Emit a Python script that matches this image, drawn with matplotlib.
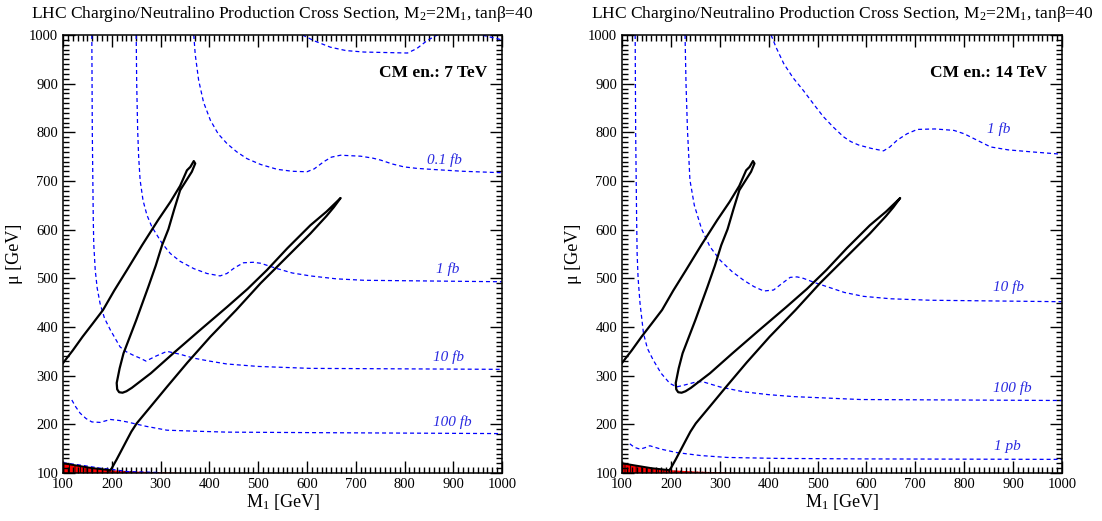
import numpy as np
import matplotlib
matplotlib.use('Agg')
import matplotlib.pyplot as plt
from matplotlib.ticker import MultipleLocator

plt.rcParams['font.family'] = ['Liberation Serif', 'DejaVu Serif']
plt.rcParams['mathtext.fontset'] = 'custom'
plt.rcParams['mathtext.rm'] = 'Liberation Serif'
plt.rcParams['mathtext.it'] = 'Liberation Serif:italic'
plt.rcParams['hatch.linewidth'] = 0.6

# black contour (same in both panels), (M1, mu) in GeV
contour_m1 = [100, 120, 140, 160, 182, 205, 231, 262, 295, 320, 340, 354, 361, 368, 371, 364, 352,
              340, 328, 316, 303, 290, 275, 250, 224, 216, 210, 211, 215, 222, 230, 241, 280, 326,
              380, 436, 478, 518, 560, 607, 640, 669, 655, 640, 607, 555, 505, 455, 402, 355, 313,
              280, 251, 240, 231, 220, 210, 200, 196]
contour_mu = [326, 352, 380, 406, 435, 475, 517, 568, 620, 657, 690, 722, 729, 741, 736, 719, 700,
              681, 642, 601, 568, 526, 483, 414, 346, 315, 285, 272, 266, 265, 268, 275, 305, 346,
              393, 441, 478, 517, 562, 609, 637, 665, 646, 628, 592, 540, 490, 435, 380, 327, 277,
              237, 202, 185, 168, 147, 128, 110, 105]

# excluded region at the bottom left
red_m1 = [100, 130, 160, 196, 250, 300, 350]
red_mu = [120, 115, 110, 106, 103, 101.5, 100]

# cross section contours, 7 TeV
l7_top_m1 = [580, 593, 615, 648, 680, 717, 806, 825, 847, 867, 900, 950, 1000]
l7_top_mu = [1010, 999, 988, 975, 968, 965, 963, 972, 989, 1000, 1004, 1002, 990]
l7_01_m1 = [368, 371, 378, 388, 402, 418, 436, 456, 477, 505, 539, 570, 600, 615, 635, 650, 669,
            710, 735, 751, 775, 799, 825, 854, 920, 1000]
l7_01_mu = [1000, 960, 907, 862, 825, 797, 777, 760, 746, 734, 724, 720, 719, 725, 740, 749, 753,
            751, 747, 743, 735, 729, 726, 724, 720, 717]
l7_1_m1 = [250, 251, 253, 255, 258, 264, 272, 282, 303, 320, 340, 368, 395, 422, 436, 452, 470,
           490, 505, 539, 570, 607, 660, 717, 1000]
l7_1_mu = [1000, 900, 804, 750, 702, 660, 630, 606, 572, 551, 535, 520, 510, 505, 510, 522, 532,
           533, 531, 520, 511, 505, 499, 496, 493]
l7_10_m1 = [159, 160, 162, 163, 166, 170, 176, 185, 197, 217, 230, 244, 258, 270, 290, 313, 340,
            368, 400, 436, 500, 607, 1000]
l7_10_mu = [1000, 800, 620, 570, 517, 480, 448, 418, 394, 359, 349, 342, 336, 330, 340, 350, 344,
            336, 330, 324, 319, 315, 313]
l7_100_m1 = [118, 126, 135, 147, 159, 176, 197, 215, 231, 270, 313, 370, 436, 607, 1000]
l7_100_mu = [250, 236, 223, 212, 205, 204, 210, 208, 205, 196, 188, 186, 184, 183, 181]
l7_1pb_m1 = [100, 138, 176, 197, 231, 300]
l7_1pb_mu = [121, 116, 110, 108, 103, 101]

# cross section contours, 14 TeV
l14_1_m1 = [405, 415, 431, 450, 471, 492, 512, 533, 553, 568, 584, 610, 635, 648, 663, 683, 704,
            740, 779, 800, 820, 854, 890, 936, 1000]
l14_1_mu = [1000, 975, 941, 912, 886, 858, 832, 810, 791, 781, 774, 767, 762, 770, 784, 797, 806,
            807, 804, 797, 787, 770, 764, 760, 755]
l14_10_m1 = [229, 231, 234, 239, 248, 263, 280, 301, 325, 349, 370, 390, 410, 428, 444, 458, 471,
             495, 519, 555, 594, 650, 731, 1000]
l14_10_mu = [1000, 900, 804, 702, 650, 601, 565, 537, 514, 496, 483, 474, 476, 490, 502, 503, 500,
             491, 483, 471, 463, 458, 455, 452]
l14_100_m1 = [127, 128, 130, 131, 133, 137, 144, 152, 164, 180, 198, 212, 225, 240, 255, 267, 300,
              348, 400, 451, 588, 1000]
l14_100_mu = [1000, 800, 620, 551, 500, 448, 387, 356, 332, 305, 284, 277, 280, 284, 288, 287, 277,
              267, 261, 257, 251, 249]
l14_1pb_m1 = [116, 125, 137, 147, 157, 180, 212, 260, 315, 420, 588, 1000]
l14_1pb_mu = [160, 153, 149, 152, 156, 149, 142, 136, 132, 130, 129, 128]

labels_7 = [('0.1 fb', 881, 743), ('1 fb', 888, 518), ('10 fb', 890, 339), ('100 fb', 898, 205)]
labels_14 = [('1 fb', 871, 806), ('10 fb', 891, 483), ('100 fb', 899, 274), ('1 pb', 888, 154)]

curves_7 = [(l7_top_m1, l7_top_mu), (l7_01_m1, l7_01_mu), (l7_1_m1, l7_1_mu),
            (l7_10_m1, l7_10_mu), (l7_100_m1, l7_100_mu), (l7_1pb_m1, l7_1pb_mu)]
curves_14 = [(l14_1_m1, l14_1_mu), (l14_10_m1, l14_10_mu),
             (l14_100_m1, l14_100_mu), (l14_1pb_m1, l14_1pb_mu)]

title = r'LHC Chargino/Neutralino Production Cross Section, M$_2$=2M$_1$, tanβ=40'


def panel(ax, curves, labels, energy):
    for m1, mu in curves:
        ax.plot(m1, mu, color='blue', lw=0.9, dashes=(3.2, 2.4))
    for txt, x, y in labels:
        ax.text(x, y, txt, color='#2a2ae0', style='italic', fontsize=11, ha='center', va='center')

    ax.fill_between(red_m1, red_mu, 100, facecolor='red', edgecolor='black', hatch='|||', lw=0)
    ax.plot(red_m1[:4], red_mu[:4], color='black', lw=1.4)
    ax.plot(contour_m1, contour_mu, color='black', lw=1.6)

    ax.text(0.966, 0.913, 'CM en.: %s TeV' % energy, transform=ax.transAxes,
            fontsize=12.5, fontweight='bold', ha='right', va='center')

    ax.set_xlim(100, 1000)
    ax.set_ylim(100, 1000)
    ax.xaxis.set_major_locator(MultipleLocator(100))
    ax.xaxis.set_minor_locator(MultipleLocator(10))
    ax.yaxis.set_major_locator(MultipleLocator(100))
    ax.yaxis.set_minor_locator(MultipleLocator(10))
    ax.tick_params(which='both', direction='in', top=True, right=True, labelsize=10.5, width=1)
    ax.tick_params(which='major', length=8.5)
    ax.tick_params(which='minor', length=4.2)
    for s in ax.spines.values():
        s.set_linewidth(1.1)
    ax.set_xlabel(r'M$_1$ [GeV]', fontsize=13, labelpad=1)
    ax.set_ylabel('μ [GeV]', fontsize=13, labelpad=4)
    ax.set_title(title, fontsize=12.5, pad=12)


fig = plt.figure(figsize=(11.02, 5.21), dpi=100)
ax1 = fig.add_axes([0.0572, 0.0921, 0.3984, 0.8407])
ax2 = fig.add_axes([0.5644, 0.0921, 0.3993, 0.8407])
panel(ax1, curves_7, labels_7, '7')
panel(ax2, curves_14, labels_14, '14')

fig.savefig('out.png', dpi=100)
